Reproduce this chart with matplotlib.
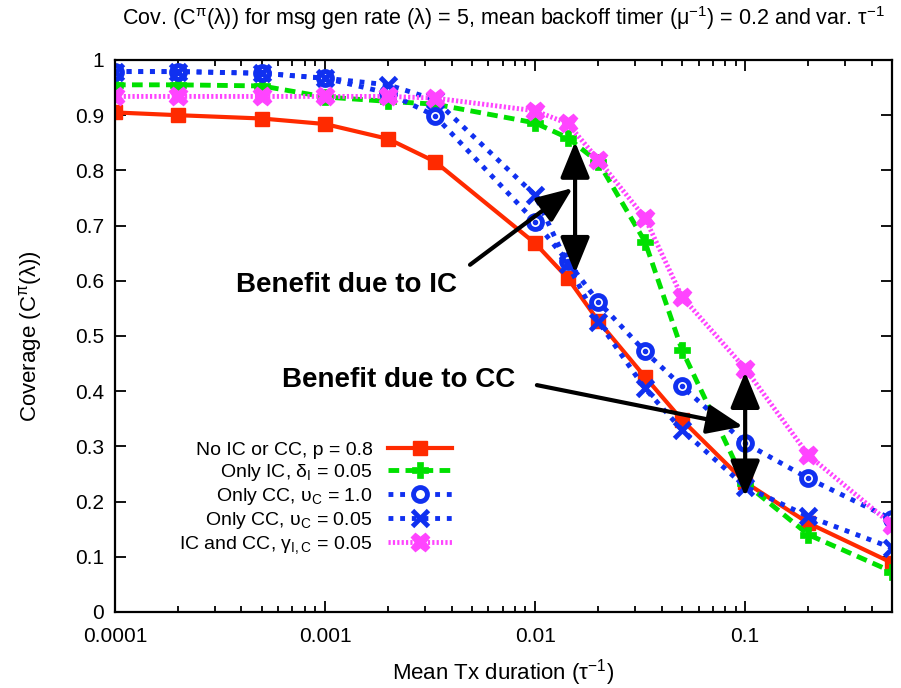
import matplotlib
matplotlib.use("Agg")
import matplotlib.pyplot as plt
from matplotlib.ticker import FixedLocator, FuncFormatter, LogLocator, NullFormatter

plt.rcParams["font.family"] = ["Liberation Sans", "DejaVu Sans"]
plt.rcParams["mathtext.fontset"] = "custom"
plt.rcParams["mathtext.rm"] = "Liberation Sans"
plt.rcParams["mathtext.it"] = "Liberation Sans:italic"

# mean Tx duration (tau^-1)
tx = [1 / 10000, 1 / 5000, 1 / 2000, 1 / 1000, 1 / 500, 1 / 300, 1 / 100,
      1 / 70, 1 / 50, 1 / 30, 1 / 20, 1 / 10, 1 / 5, 1 / 2]

no_ic_cc = [0.905, 0.900, 0.894, 0.884, 0.857, 0.816, 0.668,
            0.605, 0.527, 0.426, 0.348, 0.235, 0.161, 0.089]
only_ic = [0.955, 0.955, 0.953, 0.933, 0.925, 0.920, 0.886,
           0.859, 0.815, 0.671, 0.475, 0.233, 0.140, 0.073]
only_cc_1 = [0.979, 0.979, 0.976, 0.967, 0.940, 0.899, 0.707,
             0.635, 0.562, 0.472, 0.409, 0.306, 0.242, 0.168]
only_cc_005 = [0.979, 0.979, 0.976, 0.967, 0.955, 0.928, 0.755,
               0.630, 0.526, 0.405, 0.330, 0.227, 0.173, 0.116]
ic_and_cc = [0.934, 0.934, 0.934, 0.934, 0.934, 0.931, 0.908,
             0.885, 0.819, 0.714, 0.571, 0.441, 0.284, 0.158]

labels = [
    "No IC or CC, p = 0.8",
    r"Only IC, δ$_\mathrm{I}$ = 0.05",
    r"Only CC, υ$_\mathrm{C}$ = 1.0",
    r"Only CC, υ$_\mathrm{C}$ = 0.05",
    r"IC and CC, γ$_\mathrm{I,C}$ = 0.05",
]

# annotation arrows: (x, y) tail -> head
ic_double = [(0.0155, 0.852), (0.0155, 0.614)]
ic_pointer = [(0.0049, 0.629), (0.0151, 0.768)]
cc_double = [(0.1, 0.435), (0.1, 0.209)]
cc_pointer = [(0.0102, 0.411), (0.0977, 0.336)]

RED = "#ff2a00"
GREEN = "#00e000"
BLUE = "#1030f0"
MAGENTA = "#ff44ff"

fig = plt.figure(figsize=(9.01, 6.88), dpi=100)
ax = fig.add_axes([0.1276, 0.1105, 0.8624, 0.8023])

ax.plot(tx, no_ic_cc, color=RED, lw=3, ls="-", marker="s", ms=10,
        mfc=RED, mec=RED, label=labels[0])
ax.plot(tx, only_ic, color=GREEN, lw=3.5, ls=(0, (2.2, 1.3)), marker="P",
        ms=11, mfc=GREEN, mec=GREEN, mew=0.5, label=labels[1])
ax.plot(tx, only_cc_1, color=BLUE, lw=3.5, ls=(0, (1.0, 1.4)), marker="o",
        ms=10, mfc="white", mec=BLUE, mew=3.5, label=labels[2])
ax.plot(tx, only_cc_1, ls="none", marker="o", ms=3, color=BLUE)
ax.plot(tx, only_cc_005, color=BLUE, lw=3.5, ls=(0, (1.0, 1.4)), marker="x",
        ms=11, mew=3.5, label=labels[3])
ax.plot(tx, ic_and_cc, color=MAGENTA, lw=3.5, ls=(0, (0.45, 0.45)),
        marker="X", ms=13, mfc=MAGENTA, mec=MAGENTA, label=labels[4])

arrow_kw = dict(arrowstyle="-|>,head_length=1.1,head_width=0.45",
                color="black", lw=3, mutation_scale=20,
                shrinkA=0, shrinkB=0)
double_kw = dict(arrow_kw, arrowstyle="<|-|>,head_length=1.1,head_width=0.45")
for (tail, head), kw in [(ic_double, double_kw), (ic_pointer, arrow_kw),
                         (cc_double, double_kw), (cc_pointer, arrow_kw)]:
    ax.annotate("", xy=head, xytext=tail, arrowprops=kw)

ax.text(0.00126, 0.592, "Benefit due to IC", fontsize=20, fontweight="bold",
        ha="center", va="center")
ax.text(0.00225, 0.42, "Benefit due to CC", fontsize=20, fontweight="bold",
        ha="center", va="center")

ax.set_xscale("log")
ax.set_xlim(1e-4, 0.5)
ax.set_ylim(0, 1)
ax.xaxis.set_major_locator(FixedLocator([1e-4, 1e-3, 1e-2, 1e-1]))
ax.xaxis.set_major_formatter(FuncFormatter(lambda v, p: f"{v:g}"))
ax.xaxis.set_minor_locator(LogLocator(base=10, subs=range(2, 10)))
ax.xaxis.set_minor_formatter(NullFormatter())
ax.yaxis.set_major_locator(FixedLocator([i / 10 for i in range(11)]))
ax.yaxis.set_major_formatter(FuncFormatter(lambda v, p: f"{v:g}"))

ax.tick_params(which="both", direction="in", top=True, right=True, width=1.3)
ax.tick_params(which="major", length=8, labelsize=15)
ax.tick_params(axis="x", which="major", pad=11)
ax.tick_params(axis="y", which="major", pad=8)
ax.tick_params(which="minor", length=4)
for sp in ax.spines.values():
    sp.set_linewidth(1.6)

ax.set_title(r"Cov. (C$^\mathrm{π}$(λ)) for msg gen rate (λ) = 5, "
             r"mean backoff timer (μ$^{-1}$) = 0.2 and var. τ$^{-1}$",
             fontsize=15.5, pad=25)
ax.set_xlabel(r"Mean Tx duration (τ$^{-1}$)", fontsize=16, labelpad=8)
ax.set_ylabel(r"Coverage (C$^\mathrm{π}$(λ))", fontsize=16, labelpad=22)

ax.legend(loc="upper right", bbox_to_anchor=(0.434, 0.309), frameon=False,
          markerfirst=False, fontsize=14, handlelength=3.3, labelspacing=0.15,
          borderpad=0, borderaxespad=0, handletextpad=0.8)

fig.savefig("out.png", dpi=100)
